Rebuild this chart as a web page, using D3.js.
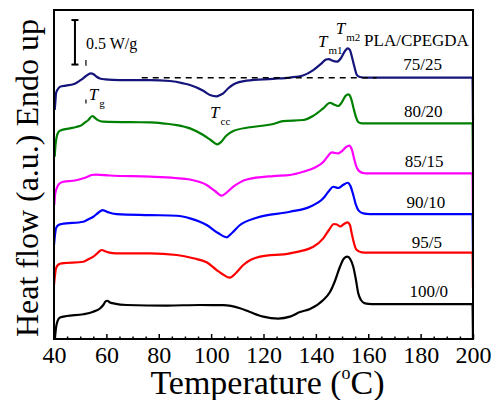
<!DOCTYPE html>
<html>
<head>
<meta charset="utf-8">
<script src="https://cdn.jsdelivr.net/npm/d3@7"></script>
<style>
  body { margin: 0; background: #fff; }
  svg { display: block; font-family: "Liberation Serif", "DejaVu Serif", serif; }
</style>
</head>
<body>
<svg id="chart" width="493" height="400"></svg>
<script>
// DSC heating curves, PLA/CPEGDA blends (temperature in C, heat flow in W/g, stacked)
const series = [
  { label: '75/25', color: '#14147a', data: [
    [40.27, 2.573], [40.57, 2.685], [40.76, 2.761], [41.53, 2.809], [42.29, 2.835], [44.58, 2.848],
    [47.37, 2.862], [50.58, 2.918], [52.22, 2.955], [54.01, 2.985], [55.27, 2.972], [56.30, 2.947],
    [57.56, 2.927], [59.47, 2.918], [65.20, 2.910], [76.66, 2.910], [84.29, 2.899], [89.37, 2.873],
    [91.93, 2.854], [97.01, 2.789], [99.56, 2.742], [102.12, 2.727], [103.38, 2.742], [104.64, 2.761],
    [106.44, 2.815], [108.46, 2.860], [113.58, 2.904], [123.62, 2.924], [130.11, 2.938], [135.07, 2.961],
    [139.01, 3.022], [142.21, 3.098], [143.86, 3.140], [145.00, 3.146], [146.15, 3.129], [148.06, 3.116],
    [149.59, 3.157], [151.11, 3.236], [152.14, 3.266], [153.02, 3.247], [153.78, 3.169], [154.74, 3.056],
    [155.69, 2.966], [156.84, 2.944], [159.13, 2.936], [199.80, 2.936], [199.99, 2.461]
  ]},
  { label: '80/20', color: '#008000', data: [
    [40.27, 2.048], [40.57, 2.180], [41.03, 2.273], [41.72, 2.326], [42.29, 2.340], [46.11, 2.367],
    [48.40, 2.382], [50.58, 2.404], [51.84, 2.433], [53.10, 2.461], [54.62, 2.506], [55.46, 2.489],
    [56.30, 2.469], [57.56, 2.449], [58.82, 2.442], [69.02, 2.436], [76.66, 2.435], [82.38, 2.421],
    [86.85, 2.404], [91.93, 2.367], [97.01, 2.292], [99.56, 2.242], [102.35, 2.188], [103.76, 2.213],
    [105.67, 2.281], [108.46, 2.337], [114.84, 2.379], [123.73, 2.416], [127.44, 2.449], [135.19, 2.461],
    [138.89, 2.506], [142.82, 2.592], [145.38, 2.655], [146.91, 2.635], [148.55, 2.618], [149.96, 2.663],
    [151.30, 2.730], [152.37, 2.749], [153.40, 2.708], [154.36, 2.596], [155.31, 2.494], [156.19, 2.438],
    [157.60, 2.424], [199.80, 2.424], [199.99, 1.865]
  ]},
  { label: '85/15', color: '#ff00ff', data: [
    [40.11, 1.506], [40.38, 1.618], [41.03, 1.693], [41.91, 1.742], [43.55, 1.767], [48.02, 1.781],
    [51.19, 1.806], [52.98, 1.826], [54.39, 1.843], [56.04, 1.848], [61.38, 1.837], [76.66, 1.824],
    [86.20, 1.809], [91.93, 1.792], [98.30, 1.730], [101.47, 1.663], [104.03, 1.610], [105.67, 1.640],
    [108.46, 1.711], [113.58, 1.792], [123.73, 1.831], [130.11, 1.843], [135.19, 1.880], [139.66, 1.927],
    [142.82, 1.989], [144.62, 2.056], [146.03, 2.098], [147.29, 2.090], [148.55, 2.087], [149.96, 2.112],
    [151.49, 2.157], [152.75, 2.172], [153.78, 2.124], [154.74, 2.011], [155.69, 1.921], [157.49, 1.869],
    [159.13, 1.862], [199.80, 1.862], [199.99, 1.404]
  ]},
  { label: '90/10', color: '#0000ff', data: [
    [40.00, 1.056], [40.38, 1.169], [40.76, 1.244], [41.72, 1.281], [42.94, 1.292], [51.19, 1.318],
    [52.98, 1.343], [55.01, 1.374], [56.80, 1.416], [58.59, 1.449], [59.66, 1.438], [60.73, 1.424],
    [63.94, 1.404], [76.66, 1.393], [86.85, 1.385], [91.93, 1.356], [98.30, 1.281], [102.62, 1.191],
    [105.94, 1.143], [107.96, 1.191], [111.02, 1.281], [117.39, 1.363], [130.11, 1.430], [137.75, 1.487],
    [142.82, 1.581], [145.00, 1.663], [146.64, 1.711], [148.55, 1.697], [150.35, 1.730], [152.14, 1.756],
    [153.21, 1.719], [154.28, 1.618], [155.31, 1.506], [156.19, 1.449], [158.10, 1.412], [160.66, 1.404],
    [199.80, 1.404], [199.99, 0.970]
  ]},
  { label: '95/5', color: '#ff0000', data: [
    [40.00, 0.607], [40.38, 0.719], [40.76, 0.794], [41.72, 0.837], [42.94, 0.850], [51.19, 0.868],
    [52.98, 0.893], [55.01, 0.925], [56.61, 0.966], [58.21, 1.000], [59.28, 0.989], [60.73, 0.974],
    [63.94, 0.963], [76.66, 0.963], [86.85, 0.944], [93.19, 0.907], [98.30, 0.862], [102.12, 0.775],
    [104.53, 0.725], [107.20, 0.689], [109.49, 0.742], [112.28, 0.831], [118.66, 0.925], [130.11, 0.963],
    [139.01, 1.037], [142.82, 1.131], [145.00, 1.225], [146.91, 1.292], [148.06, 1.287], [149.32, 1.264],
    [150.73, 1.292], [152.07, 1.311], [153.02, 1.281], [153.67, 1.188], [154.55, 1.079], [155.43, 1.006],
    [157.49, 0.974], [159.89, 0.970], [199.80, 0.970], [199.99, 0.573]
  ]},
  { label: '100/0', color: '#000000', data: [
    [40.38, 0.011], [40.76, 0.124], [41.34, 0.202], [42.29, 0.242], [44.85, 0.258], [51.19, 0.278],
    [55.01, 0.307], [57.56, 0.343], [58.82, 0.382], [59.66, 0.421], [60.35, 0.430], [61.38, 0.410],
    [62.64, 0.401], [67.76, 0.382], [83.03, 0.376], [95.75, 0.382], [104.64, 0.380], [111.02, 0.345],
    [114.84, 0.303], [119.92, 0.251], [125.64, 0.230], [130.11, 0.251], [133.93, 0.303], [137.75, 0.337],
    [142.82, 0.438], [145.38, 0.528], [147.29, 0.652], [149.20, 0.812], [150.73, 0.904], [151.99, 0.925],
    [153.21, 0.893], [154.28, 0.812], [155.31, 0.663], [156.19, 0.513], [157.22, 0.438], [158.75, 0.401],
    [161.42, 0.393], [199.80, 0.393], [199.99, 0.000]
  ]}
];

// where each composition label sits: [temperature at centre, heat flow at baseline]
const labelAnchors = [[180.8, 3.02], [181.0, 2.50], [181.3, 1.935], [182.0, 1.47], [182.4, 1.02], [183.1, 0.476]];

const xTicks = [40, 60, 80, 100, 120, 140, 160, 180, 200];
const xMinor = d3.range(45, 200, 5).filter(t => t % 20 !== 0);

const baselineDash = [73.5, 163.2, 2.936];   // dashed baseline of the 75/25 curve: from, to, level
const scaleBar = { t: 48.0, top: 3.584, size: 0.5, text: '0.5 W/g' };

const width = 493, height = 400;
const margin = { top: 10, right: 20, bottom: 61, left: 54 };
const plotW = width - margin.left - margin.right;
const plotH = height - margin.top - margin.bottom;

const svg = d3.select('#chart');
const g = svg.append('g').attr('transform', `translate(${margin.left},${margin.top})`);

const x = d3.scaleLinear().domain([40, 200]).range([0, plotW]);
const y = d3.scaleLinear().domain([0, 3.697]).range([plotH, 0]);

// curves
const line = d3.line()
  .x(d => x(d[0]))
  .y(d => y(d[1]))
  .curve(d3.curveMonotoneX);

g.selectAll('path.curve')
  .data(series)
  .enter()
  .append('path')
  .attr('class', 'curve')
  .attr('d', d => line(d.data))
  .attr('fill', 'none')
  .attr('stroke', d => d.color)
  .attr('stroke-width', 2.2)
  .attr('stroke-linejoin', 'round');

// dashed baseline
g.append('line')
  .attr('x1', x(baselineDash[0]))
  .attr('x2', x(baselineDash[1]))
  .attr('y1', y(baselineDash[2]))
  .attr('y2', y(baselineDash[2]))
  .attr('stroke', '#000')
  .attr('stroke-width', 1.6)
  .attr('stroke-dasharray', '6,5');

// composition labels
g.selectAll('text.comp')
  .data(series)
  .enter()
  .append('text')
  .attr('class', 'comp')
  .attr('x', (d, i) => x(labelAnchors[i][0]))
  .attr('y', (d, i) => y(labelAnchors[i][1]))
  .attr('text-anchor', 'middle')
  .style('font-size', '17px')
  .text(d => d.label);

g.append('text')
  .attr('x', x(158.4))
  .attr('y', y(3.295))
  .style('font-size', '17px')
  .text('PLA/CPEGDA');

// scale bar
const sbx = x(scaleBar.t);
const sb = g.append('g').attr('stroke', '#000').attr('stroke-width', 2);
sb.append('line').attr('x1', sbx).attr('x2', sbx).attr('y1', y(scaleBar.top)).attr('y2', y(scaleBar.top - scaleBar.size));
sb.append('line').attr('x1', sbx - 3.5).attr('x2', sbx + 3.5).attr('y1', y(scaleBar.top)).attr('y2', y(scaleBar.top));
sb.append('line').attr('x1', sbx - 3.5).attr('x2', sbx + 3.5).attr('y1', y(scaleBar.top - scaleBar.size)).attr('y2', y(scaleBar.top - scaleBar.size));
g.append('text')
  .attr('x', sbx + 11)
  .attr('y', y(scaleBar.top - 0.33))
  .style('font-size', '16px')
  .text(scaleBar.text);

// Tg marks
const tgMarks = g.append('g').attr('stroke', '#000').attr('stroke-width', 1.2);
tgMarks.append('line').attr('x1', x(52.2)).attr('x2', x(52.2)).attr('y1', y(3.135)).attr('y2', y(3.07));
tgMarks.append('line').attr('x1', x(52.2)).attr('x2', x(52.2)).attr('y1', y(2.69)).attr('y2', y(2.645));

// subscripted temperature labels
function tLabel(tx, ty, sub) {
  const t = g.append('text').attr('x', x(tx)).attr('y', y(ty)).style('font-size', '17px');
  t.append('tspan').style('font-style', 'italic').text('T');
  t.append('tspan').attr('dx', 1).attr('dy', 7).style('font-size', '11px').text(sub);
}
tLabel(53.3, 2.685, 'g');
tLabel(99.6, 2.483, 'cc');
tLabel(140.8, 3.28, 'm1');
tLabel(147.6, 3.427, 'm2');

// axes: frame, major and minor inward ticks
g.append('rect')
  .attr('width', plotW)
  .attr('height', plotH)
  .attr('fill', 'none')
  .attr('stroke', '#000')
  .attr('stroke-width', 2);

const xAxis = g.append('g')
  .attr('transform', `translate(0,${plotH})`)
  .call(d3.axisBottom(x).tickValues(xTicks).tickSizeInner(-5).tickSizeOuter(0).tickFormat(d3.format('d')));
xAxis.select('.domain').remove();
xAxis.selectAll('line').attr('stroke-width', 1.5);
xAxis.selectAll('text')
  .attr('y', 24)
  .attr('dy', 0)
  .style('font-family', '"Liberation Serif", serif')
  .style('font-size', '24px')
  .style('fill', '#000');

const xMinorAxis = g.append('g')
  .attr('transform', `translate(0,${plotH})`)
  .call(d3.axisBottom(x).tickValues(xMinor).tickSizeInner(-2.5).tickSizeOuter(0).tickFormat(''));
xMinorAxis.select('.domain').remove();
xMinorAxis.selectAll('line').attr('stroke-width', 1.5);

// axis titles
const xTitle = svg.append('text')
  .attr('x', margin.left + plotW / 2 + 4)
  .attr('y', 394)
  .attr('text-anchor', 'middle')
  .style('font-size', '34px');
xTitle.append('tspan').text('Temperature (');
xTitle.append('tspan').attr('dy', -15).style('font-size', '18px').text('o');
xTitle.append('tspan').attr('dy', 15).text('C)');

svg.append('text')
  .attr('transform', `translate(38,${178}) rotate(-90)`)
  .attr('text-anchor', 'middle')
  .style('font-size', '32px')
  .text('Heat flow (a.u.) Endo up');
</script>
</body>
</html>
